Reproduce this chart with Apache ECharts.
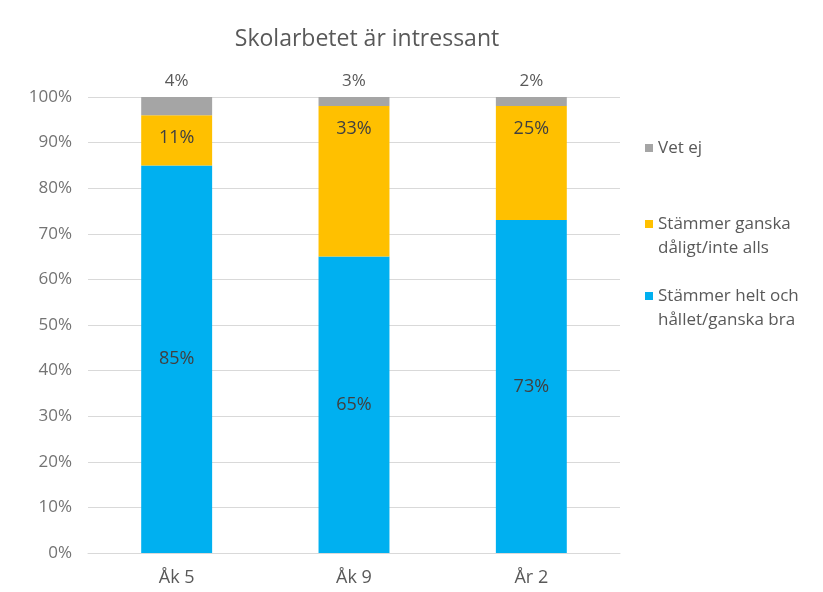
<!DOCTYPE html>
<html lang="sv">
<head>
    <meta charset="utf-8"/>
    <title>Skolarbetet är intressant</title>
    <script src="https://cdn.jsdelivr.net/npm/echarts@6/dist/echarts.min.js"></script>
</head>
<body style="margin: 0; background: #fff">
<div id="chart" style="width: 823px; height: 592px"></div>
<script>
    // data
    const categories = ['Åk 5', 'Åk 9', 'År 2'];
    const helt = [85, 65, 73];      // Stämmer helt och hållet/ganska bra
    const daligt = [11, 33, 25];    // Stämmer ganska dåligt/inte alls
    const vetEj = [4, 3, 2];        // Vet ej
    const yTicks = [0, 10, 20, 30, 40, 50, 60, 70, 80, 90, 100];

    const FONT = '"Open Sans", "Noto Sans", sans-serif';
    const GREY = '#595959';

    // marker sits on the first line of a two-line legend entry
    const topIcon = 'path://M0,8h8v8h-8zM0,0h0.01M0,48h0.01';

    let chart = echarts.init(document.getElementById('chart'));

    chart.setOption({
        animation: false,
        title: {
            text: 'Skolarbetet är intressant',
            left: 362,
            textAlign: 'center',
            top: 23,
            textStyle: {fontFamily: FONT, fontSize: 23, fontWeight: 'normal', color: GREY}
        },
        grid: {left: 88, right: 203, top: 97, bottom: 39},
        legend: [
            {
                data: ['Vet ej'],
                left: 640,
                top: 131,
                orient: 'vertical',
                icon: 'rect',
                itemWidth: 8,
                itemHeight: 8,
                textStyle: {fontFamily: FONT, fontSize: 17, color: GREY, lineHeight: 24}
            },
            {
                data: [
                    {name: 'Stämmer ganska dåligt/inte alls', icon: topIcon},
                    {name: 'Stämmer helt och hållet/ganska bra', icon: topIcon}
                ],
                left: 640,
                top: 207,
                orient: 'vertical',
                itemWidth: 8,
                itemHeight: 48,
                itemGap: 24,
                formatter: function (name) {
                    return name.replace(/ (dåligt|hållet)/, '\n$1');
                },
                textStyle: {fontFamily: FONT, fontSize: 17, color: GREY, lineHeight: 24}
            }
        ],
        xAxis: {
            type: 'category',
            data: categories,
            axisLine: {lineStyle: {color: '#d9d9d9'}},
            axisTick: {show: false},
            axisLabel: {fontFamily: FONT, fontSize: 18, color: GREY, margin: 16}
        },
        yAxis: {
            type: 'value',
            min: yTicks[0],
            max: yTicks[yTicks.length - 1],
            interval: 10,
            axisLine: {show: false},
            axisTick: {show: false},
            splitLine: {lineStyle: {color: '#d9d9d9'}},
            axisLabel: {fontFamily: FONT, fontSize: 17, color: '#737373', margin: 16, formatter: '{value}%'}
        },
        series: [
            {
                name: 'Stämmer helt och hållet/ganska bra',
                type: 'bar',
                stack: 'total',
                barWidth: '40%',
                data: helt,
                itemStyle: {color: '#00b0f0'},
                label: {
                    show: true, position: 'inside', formatter: '{c}%',
                    fontFamily: FONT, fontSize: 18, color: '#404040'
                }
            },
            {
                name: 'Stämmer ganska dåligt/inte alls',
                type: 'bar',
                stack: 'total',
                data: daligt,
                itemStyle: {color: '#ffc000'},
                label: {
                    show: true, position: 'insideTop', distance: 14, formatter: '{c}%',
                    fontFamily: FONT, fontSize: 18, color: '#404040'
                }
            },
            {
                name: 'Vet ej',
                type: 'bar',
                stack: 'total',
                clip: true,
                data: vetEj,
                itemStyle: {color: '#a5a5a5'},
                label: {
                    show: true, position: 'top', distance: 7, formatter: '{c}%',
                    fontFamily: FONT, fontSize: 17, color: GREY
                }
            }
        ]
    });
</script>
</body>
</html>
